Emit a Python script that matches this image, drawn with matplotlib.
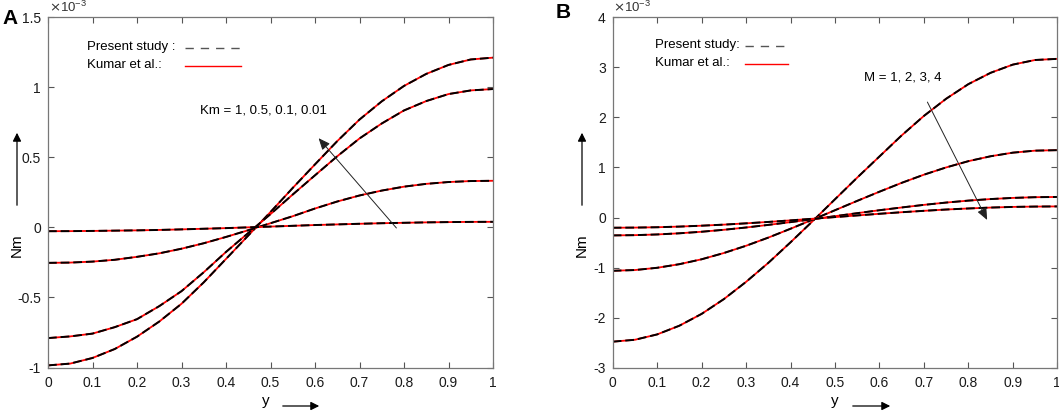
import matplotlib
matplotlib.use("Agg")
import matplotlib.pyplot as plt
from matplotlib.patches import FancyArrowPatch
from matplotlib.ticker import FuncFormatter

plt.rcParams['font.family'] = ['Liberation Sans', 'DejaVu Sans']

# ---- data (Nm in units of 1e-3) ----
y_vals = [0.0, 0.05, 0.1, 0.15, 0.2, 0.25, 0.3, 0.35, 0.4, 0.45, 0.5,
          0.55, 0.6, 0.65, 0.7, 0.75, 0.8, 0.85, 0.9, 0.95, 1.0]

# panel A : Km = 1, 0.5, 0.1, 0.01
nm_km_1 = [-0.985, -0.972, -0.932, -0.868, -0.780, -0.672, -0.545, -0.392, -0.225, -0.058, 0.110,
           0.282, 0.450, 0.616, 0.770, 0.900, 1.010, 1.096, 1.160, 1.199, 1.212]
nm_km_05 = [-0.790, -0.778, -0.758, -0.712, -0.655, -0.562, -0.455, -0.320, -0.175, -0.040, 0.095,
            0.235, 0.372, 0.508, 0.635, 0.742, 0.835, 0.902, 0.952, 0.978, 0.988]
nm_km_01 = [-0.253, -0.251, -0.244, -0.231, -0.210, -0.185, -0.152, -0.113, -0.068, -0.020, 0.030,
            0.080, 0.135, 0.185, 0.228, 0.263, 0.291, 0.311, 0.324, 0.331, 0.333]
nm_km_001 = [-0.027, -0.0265, -0.025, -0.023, -0.021, -0.018, -0.014, -0.0095, -0.005, 0.0005, 0.006,
             0.0115, 0.017, 0.0215, 0.026, 0.030, 0.033, 0.036, 0.038, 0.0395, 0.040]

# panel B : M = 1, 2, 3, 4
nm_m_1 = [-2.480, -2.442, -2.335, -2.161, -1.925, -1.630, -1.285, -0.906, -0.495, -0.070, 0.365,
          0.798, 1.220, 1.641, 2.030, 2.373, 2.665, 2.891, 3.055, 3.147, 3.170]
nm_m_2 = [-1.064, -1.049, -1.004, -0.932, -0.834, -0.709, -0.564, -0.401, -0.224, -0.041, 0.146,
          0.333, 0.516, 0.693, 0.856, 1.001, 1.126, 1.224, 1.296, 1.336, 1.346]
nm_m_3 = [-0.357, -0.352, -0.338, -0.315, -0.284, -0.245, -0.199, -0.147, -0.092, -0.033, 0.027,
          0.087, 0.146, 0.201, 0.253, 0.299, 0.338, 0.369, 0.392, 0.406, 0.411]
nm_m_4 = [-0.204, -0.201, -0.194, -0.181, -0.163, -0.142, -0.116, -0.088, -0.057, -0.024, 0.009,
          0.042, 0.075, 0.106, 0.134, 0.160, 0.181, 0.199, 0.212, 0.219, 0.222]

curves_a = [nm_km_1, nm_km_05, nm_km_01, nm_km_001]
curves_b = [nm_m_1, nm_m_2, nm_m_3, nm_m_4]

x_ticks = [0, 0.1, 0.2, 0.3, 0.4, 0.5, 0.6, 0.7, 0.8, 0.9, 1]
y_ticks_a = [-1, -0.5, 0, 0.5, 1, 1.5]
y_ticks_b = [-3, -2, -1, 0, 1, 2, 3, 4]

W, H = 1059, 412
fig = plt.figure(figsize=(W / 100, H / 100), dpi=100)


def fpos(px, py):
    # pixel (from top-left) -> figure fraction
    return px / W, 1 - py / H


def make_axes(left, right, top, bottom):
    return fig.add_axes([left / W, 1 - bottom / H, (right - left) / W, (bottom - top) / H])


def style_axes(ax, yticks):
    ax.set_xlim(0, 1)
    ax.set_ylim(yticks[0], yticks[-1])
    ax.set_xticks(x_ticks)
    ax.set_yticks(yticks)
    fmt = FuncFormatter(lambda v, p: '%g' % v)
    ax.xaxis.set_major_formatter(fmt)
    ax.yaxis.set_major_formatter(fmt)
    ax.tick_params(direction='in', top=True, right=True, length=4, width=0.8,
                   color='#555555', labelsize=10, labelcolor='#1a1a1a')
    ax.tick_params(axis='x', pad=6)
    ax.tick_params(axis='y', pad=5)
    for s in ax.spines.values():
        s.set_color('#777777')
        s.set_linewidth(0.9)


def draw_curves(ax, curves):
    for c in curves:
        ax.plot(y_vals, c, color='red', lw=1.3, solid_capstyle='butt')
        ax.plot(y_vals, c, color='black', lw=1.4, dashes=(4.5, 2.0))


def legend_block(ax, x_text, y1, y2, x_l1, x_l2, y_l1, y_l2, sep):
    ax.text(x_text, y1, 'Present study' + sep, transform=ax.transAxes, fontsize=9.5,
            va='center', ha='left')
    ax.text(x_text, y2, 'Kumar et al.:', transform=ax.transAxes, fontsize=9.5,
            va='center', ha='left')
    ax.plot(x_l1, [y_l1, y_l1], transform=ax.transAxes, color='#555555', lw=1.0,
            dashes=(6, 5), clip_on=False)
    ax.plot(x_l2, [y_l2, y_l2], transform=ax.transAxes, color='red', lw=1.0, clip_on=False)


def fig_arrow(p_from, p_to):
    fig.add_artist(FancyArrowPatch(
        fpos(*p_from), fpos(*p_to), transform=fig.transFigure,
        arrowstyle='-|>,head_length=5,head_width=2.5', color='black', lw=0.9))


# ---------------- panel A ----------------
ax_a = make_axes(48, 493, 17.3, 367.5)
draw_curves(ax_a, curves_a)
style_axes(ax_a, y_ticks_a)
legend_block(ax_a, 0.088, 0.915, 0.864, [0.308, 0.438], [0.308, 0.434], 0.912, 0.861, ' :')
ax_a.annotate('', xy=(0.604, 0.652), xytext=(0.787, -0.019),
              arrowprops=dict(arrowstyle='-|>,head_length=0.7,head_width=0.3',
                              color='#222222', lw=0.7))
ax_a.text(0.484, 0.833, 'Km = 1, 0.5, 0.1, 0.01', fontsize=9.5, ha='center', va='center')

# ---------------- panel B ----------------
ax_b = make_axes(612.7, 1057.3, 17.3, 367.7)
draw_curves(ax_b, curves_b)
style_axes(ax_b, y_ticks_b)
legend_block(ax_b, 0.095, 0.922, 0.870, [0.298, 0.392], [0.298, 0.394], 0.918, 0.868, ':')
ax_b.annotate('', xy=(0.845, -0.098), xytext=(0.705, 2.356),
              arrowprops=dict(arrowstyle='-|>,head_length=0.7,head_width=0.3',
                              color='#222222', lw=0.7))
ax_b.text(0.652, 2.80, 'M = 1, 2, 3, 4', fontsize=9.5, ha='center', va='center')

# ---------------- labels outside axes ----------------
for px in (49, 613):
    fig.text(*fpos(px, 12), r'$\times$10$^{\mathregular{-3}}$', fontsize=9.5, color='#333333',
             ha='left', va='baseline')

fig.text(*fpos(2, 19), 'A', fontsize=15, fontweight='bold', ha='left', va='center')
fig.text(*fpos(556, 13), 'B', fontsize=15, fontweight='bold', ha='left', va='center')

for px in (17, 582):
    fig.text(*fpos(px, 245), 'Nm', fontsize=11, rotation=90, ha='center', va='center')
    fig_arrow((px, 208), (px, 130))

for tx, a0, a1 in ((266, 280, 322), (835, 850, 893)):
    fig.text(*fpos(tx, 401), 'y', fontsize=11, ha='center', va='center')
    fig_arrow((a0, 406), (a1, 406))

fig.savefig('out.png', dpi=100)
